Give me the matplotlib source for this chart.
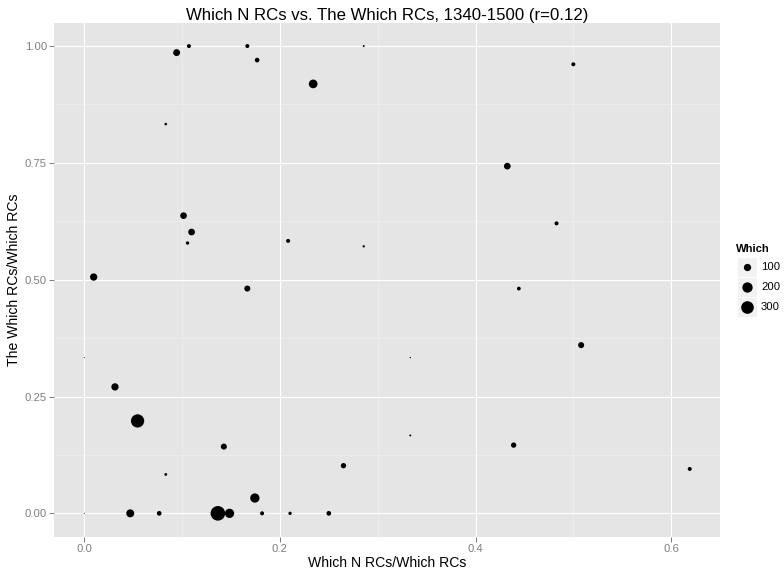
import numpy as np
import matplotlib
matplotlib.use('Agg')
import matplotlib.pyplot as plt
from matplotlib.patches import Rectangle

plt.rcParams['font.family'] = ['Liberation Sans', 'DejaVu Sans']

# ratio of "Which N" RCs, ratio of "The Which" RCs, number of Which RCs
n_ratio = [0.0944, 0.107, 0.1667, 0.1767, 0.234, 0.2857, 0.0833, 0.1015, 0.1097, 0.1056,
           0.2084, 0.2857, 0.0096, 0.500, 0.4325, 0.4828, 0.1667, 0.0, 0.0314, 0.0545,
           0.1427, 0.0833, 0.265, 0.1744, 0.0, 0.047, 0.0766, 0.1366, 0.1485, 0.1818,
           0.2104, 0.25, 0.4443, 0.508, 0.3333, 0.3333, 0.439, 0.619]
the_ratio = [0.986, 1.0, 1.0, 0.970, 0.919, 1.0, 0.833, 0.637, 0.602, 0.5785,
             0.583, 0.5714, 0.5057, 0.961, 0.743, 0.6206, 0.481, 0.3333, 0.2706, 0.1978,
             0.1428, 0.0833, 0.102, 0.0328, 0.0, 0.0, 0.0, 0.0, 0.0, 0.0,
             0.0, 0.0, 0.481, 0.36, 0.3333, 0.1667, 0.146, 0.095]
which = [90, 30, 30, 41, 142, 7, 13, 84, 84, 21,
         30, 10, 100, 30, 84, 30, 68, 2, 100, 330,
         68, 15, 53, 162, 2, 120, 41, 400, 162, 30,
         21, 41, 27, 68, 3, 7, 53, 30]
legend_breaks = [100, 200, 300]

title = 'Which N RCs vs. The Which RCs, 1340-1500 (r=0.12)'
size_k = 0.533  # marker area per unit of "Which"

W, H = 784, 570
fig = plt.figure(figsize=(W / 72, H / 72), dpi=72)
ax = fig.add_axes([54 / W, (H - 536.7) / H, (720 - 54) / W, (536.7 - 22.7) / H])
ax.set_facecolor('#E5E5E5')

ax.scatter(n_ratio, the_ratio, s=np.array(which) * size_k, color='black',
           linewidths=0, zorder=3)

def expand(v):
    lo, hi = min(v), max(v)
    pad = (hi - lo) * 0.05
    return lo - pad, hi + pad

ax.set_xlim(*expand(n_ratio))
ax.set_ylim(*expand(the_ratio))
ax.set_xticks([0.0, 0.2, 0.4, 0.6])
ax.set_xticklabels(['0.0', '0.2', '0.4', '0.6'])
ax.set_yticks([0.0, 0.25, 0.5, 0.75, 1.0])
ax.set_yticklabels(['0.00', '0.25', '0.50', '0.75', '1.00'])
ax.set_xticks([0.1, 0.3, 0.5], minor=True)
ax.set_yticks([0.125, 0.375, 0.625, 0.875], minor=True)
ax.grid(which='major', color='white', linewidth=1.2, zorder=1)
ax.grid(which='minor', color='#F2F2F2', linewidth=0.6, zorder=1)
ax.set_axisbelow(True)
for sp in ax.spines.values():
    sp.set_visible(False)
ax.tick_params(which='major', length=5, width=1, color='#7F7F7F',
               labelcolor='#7F7F7F', labelsize=11.2, pad=2)
ax.tick_params(which='minor', length=0)

ax.set_xlabel('Which N RCs/Which RCs', fontsize=14, labelpad=2)
ax.set_ylabel('The Which RCs/Which RCs', fontsize=14, labelpad=4)
ax.set_title(title, fontsize=16.8, pad=3)

# legend
lax = fig.add_axes([0, 0, 1, 1], facecolor='none')
lax.set_xlim(0, W)
lax.set_ylim(H, 0)
lax.axis('off')
lax.text(736, 249, 'Which', fontsize=11.2, fontweight='bold', va='center', ha='left')
for i, b in enumerate(legend_breaks):
    cy = 267 + i * 20
    lax.add_patch(Rectangle((738, cy - 9.5), 19, 19, facecolor='#F2F2F2', edgecolor='none'))
    lax.scatter([747.5], [cy], s=b * size_k, color='black', linewidths=0)
    lax.text(761, cy, str(b), fontsize=11.2, va='center', ha='left')

fig.savefig('out.png', dpi=72)
